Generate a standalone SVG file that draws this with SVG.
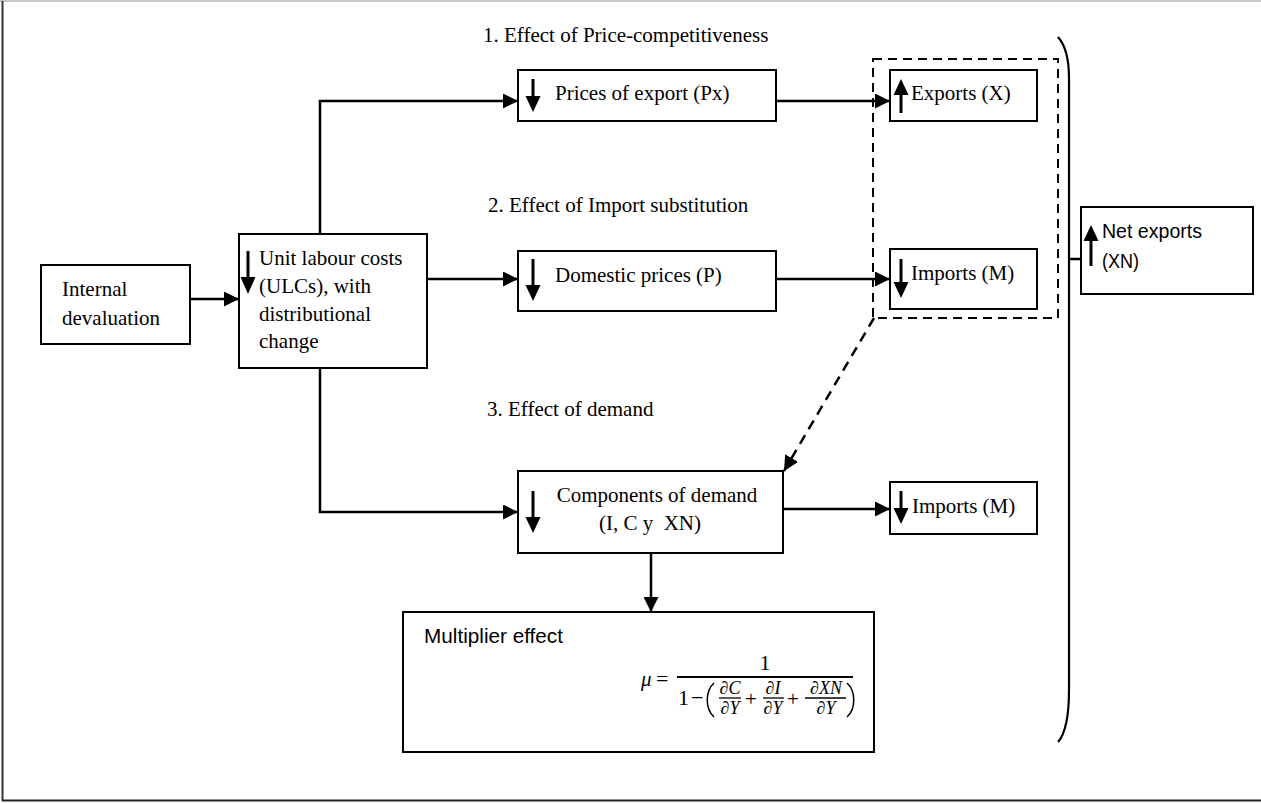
<svg xmlns="http://www.w3.org/2000/svg" width="1261" height="803" viewBox="0 0 1261 803">
<style>
.box{fill:#fff;stroke:#000;stroke-width:2}
.t{font-family:"Liberation Serif","Times New Roman",serif;font-size:21px;fill:#000}
.s{font-family:"Liberation Sans",Arial,sans-serif;fill:#000}
.m{font-family:"Liberation Serif","DejaVu Serif",serif;fill:#000}
.f{font-family:"Liberation Serif","DejaVu Serif",serif;fill:#000;font-size:18px;font-style:italic;text-anchor:middle}
.con{fill:none;stroke:#000;stroke-width:2.5}
.shaft{stroke:#000;stroke-width:3}
</style>
<defs>
<marker id="ah" markerUnits="userSpaceOnUse" markerWidth="15" markerHeight="15" refX="15" refY="7.5" orient="auto">
<path d="M0,0 L15,7.5 L0,15 z" fill="#000"/>
</marker>
</defs>
<rect width="1261" height="803" fill="#fff"/>
<g id="frame">
<line x1="0" y1="1" x2="1261" y2="1" stroke="#c8c8c8" stroke-width="2"/>
<line x1="2.5" y1="1" x2="2.5" y2="801" stroke="#333" stroke-width="2"/>
<line x1="2" y1="800.5" x2="1261" y2="800.5" stroke="#222" stroke-width="2"/>
</g>
<g id="labels">
<text class="t" x="483" y="42">1. Effect of Price-competitiveness</text>
<text class="t" x="488" y="212">2. Effect of Import substitution</text>
<text class="t" x="487" y="416">3. Effect of demand</text>
</g>
<g id="connectors">
<line class="con" x1="190" y1="299" x2="239" y2="299" marker-end="url(#ah)"/>
<path class="con" d="M320,234 V101 H518" marker-end="url(#ah)"/>
<line class="con" x1="427" y1="279" x2="518" y2="279" marker-end="url(#ah)"/>
<path class="con" d="M320,368 V512 H518" marker-end="url(#ah)"/>
<line class="con" x1="776" y1="101" x2="890" y2="101" marker-end="url(#ah)"/>
<line class="con" x1="776" y1="279" x2="890" y2="279" marker-end="url(#ah)"/>
<line class="con" x1="783" y1="509" x2="890" y2="509" marker-end="url(#ah)"/>
<line class="con" x1="651" y1="553" x2="651" y2="612" marker-end="url(#ah)"/>
<line class="con" x1="874" y1="318" x2="784" y2="471" stroke-dasharray="10,7" marker-end="url(#ah)"/>
<line class="con" x1="1069" y1="259" x2="1082" y2="259"/>
<path d="M1058,37 C1066,46 1069,60 1069,78 V690 C1069,715 1066,733 1058,742" fill="none" stroke="#000" stroke-width="2.2"/>
</g>
<g id="dashed-group">
<rect x="873" y="59" width="185" height="259" fill="none" stroke="#000" stroke-width="2" stroke-dasharray="9,6"/>
</g>
<g id="internal-devaluation">
<rect class="box" x="41" y="265" width="149" height="79"/>
<text class="t" x="62" y="296">Internal</text>
<text class="t" x="62" y="325">devaluation</text>
</g>
<g id="ulc">
<rect class="box" x="239" y="234" width="188" height="134"/>
<line class="shaft" x1="248" y1="251" x2="248" y2="280"/>
<path d="M240.5,277 L255.5,277 L248,294 z" fill="#000"/>
<text class="t" x="259" y="265">Unit labour costs</text>
<text class="t" x="259" y="293">(ULCs), with</text>
<text class="t" x="259" y="321">distributional</text>
<text class="t" x="259" y="348">change</text>
</g>
<g id="prices-export">
<rect class="box" x="518" y="70" width="258" height="51"/>
<line class="shaft" x1="533" y1="79" x2="533" y2="100"/>
<path d="M525.5,96 L540.5,96 L533,112 z" fill="#000"/>
<text class="t" x="555" y="100">Prices of export (Px)</text>
</g>
<g id="domestic-prices">
<rect class="box" x="518" y="251" width="258" height="60"/>
<line class="shaft" x1="533" y1="259" x2="533" y2="288"/>
<path d="M525.5,285 L540.5,285 L533,301 z" fill="#000"/>
<text class="t" x="555" y="282">Domestic prices (P)</text>
</g>
<g id="components-demand">
<rect class="box" x="518" y="471" width="265" height="82"/>
<line class="shaft" x1="533" y1="491" x2="533" y2="520"/>
<path d="M525.5,517 L540.5,517 L533,533 z" fill="#000"/>
<text class="t" x="657" y="502" text-anchor="middle">Components of demand</text>
<text class="t" x="650" y="530" text-anchor="middle" xml:space="preserve">(I, C y  XN)</text>
</g>
<g id="exports">
<rect class="box" x="890" y="70" width="147" height="51"/>
<line class="shaft" x1="901" y1="113" x2="901" y2="92"/>
<path d="M893.5,95 L908.5,95 L901,79 z" fill="#000"/>
<text class="t" x="911" y="100">Exports (X)</text>
</g>
<g id="imports-1">
<rect class="box" x="890" y="249" width="147" height="60"/>
<line class="shaft" x1="901" y1="259" x2="901" y2="285"/>
<path d="M893.5,282 L908.5,282 L901,298 z" fill="#000"/>
<text class="t" x="911" y="280">Imports (M)</text>
</g>
<g id="imports-2">
<rect class="box" x="890" y="482" width="147" height="52"/>
<line class="shaft" x1="901" y1="491" x2="901" y2="511"/>
<path d="M893.5,508 L908.5,508 L901,524 z" fill="#000"/>
<text class="t" x="912" y="513">Imports (M)</text>
</g>
<g id="net-exports">
<rect class="box" x="1081" y="207" width="172" height="87"/>
<line class="shaft" x1="1091" y1="266" x2="1091" y2="238"/>
<path d="M1083.5,241 L1098.5,241 L1091,225 z" fill="#000"/>
<text class="s" x="1102" y="238" font-size="20" textLength="100" lengthAdjust="spacingAndGlyphs">Net exports</text>
<text class="s" x="1102" y="268" font-size="20" textLength="37" lengthAdjust="spacingAndGlyphs">(XN)</text>
</g>
<g id="multiplier">
<rect class="box" x="403" y="612" width="471" height="140"/>
<text class="s" x="424" y="643" font-size="20" textLength="139" lengthAdjust="spacingAndGlyphs">Multiplier effect</text>
<text class="m" x="641" y="686" font-size="21" font-style="italic">μ</text>
<text class="m" x="656" y="686" font-size="22">=</text>
<line x1="677" y1="677" x2="853" y2="677" stroke="#000" stroke-width="1.8"/>
<text class="m" x="765" y="670" font-size="22" text-anchor="middle">1</text>
<text class="m" x="678" y="705" font-size="22">1</text>
<text class="m" x="691" y="705" font-size="22">−</text>
<path d="M714,683 C705,691 705,709 714,717" fill="none" stroke="#000" stroke-width="1.5"/>
<text class="f" x="730" y="694">∂C</text>
<line x1="719" y1="698" x2="741" y2="698" stroke="#000" stroke-width="1.3"/>
<text class="f" x="730" y="714">∂Y</text>
<text class="m" x="745" y="706" font-size="21">+</text>
<text class="f" x="773" y="694">∂I</text>
<line x1="763" y1="698" x2="784" y2="698" stroke="#000" stroke-width="1.3"/>
<text class="f" x="773" y="714">∂Y</text>
<text class="m" x="787" y="706" font-size="21">+</text>
<text class="f" x="826" y="694">∂XN</text>
<line x1="805" y1="698" x2="846" y2="698" stroke="#000" stroke-width="1.3"/>
<text class="f" x="826" y="714">∂Y</text>
<path d="M847,683 C856,691 856,709 847,717" fill="none" stroke="#000" stroke-width="1.5"/>
</g>
</svg>
